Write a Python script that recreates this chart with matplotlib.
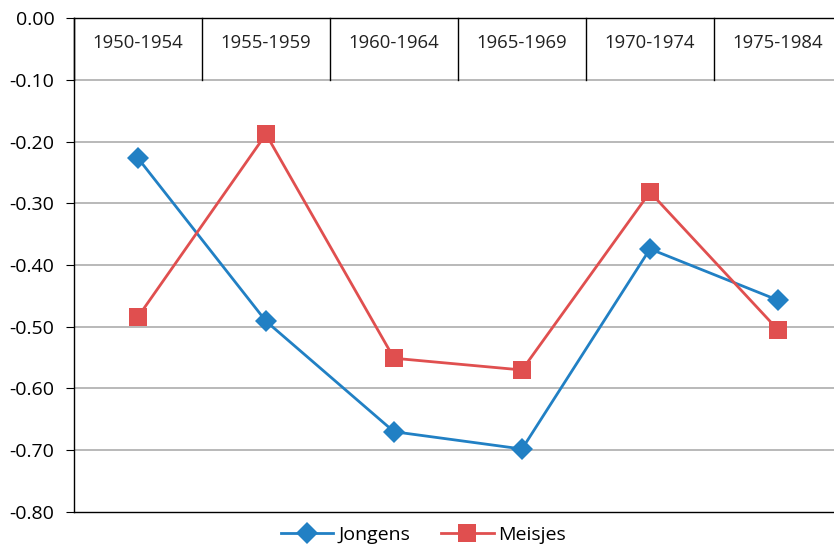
import matplotlib.pyplot as plt

periods = ["1950-1954", "1955-1959", "1960-1964", "1965-1969", "1970-1974", "1975-1984"]
jongens = [-0.227, -0.491, -0.670, -0.698, -0.374, -0.457]
meisjes = [-0.484, -0.188, -0.551, -0.570, -0.282, -0.505]

BLUE = "#2180C4"
RED = "#E04F4F"

plt.rcParams["font.family"] = ["Open Sans", "DejaVu Sans"]

fig = plt.figure(figsize=(8.34, 5.51), dpi=100)
ax = fig.add_axes([0.0887, 0.0708, 0.9209, 0.8965])

x = range(len(periods))
ax.plot(x, jongens, color=BLUE, lw=2.0, marker="D", markersize=11.5,
        markeredgewidth=0, label="Jongens", zorder=3)
ax.plot(x, meisjes, color=RED, lw=2.0, marker="s", markersize=13,
        markeredgewidth=0, label="Meisjes", zorder=3)

ax.set_xlim(-0.5, len(periods) - 0.5)
ax.set_ylim(-0.8, 0.0)
ax.set_yticks([-0.1 * i for i in range(9)])
ax.set_yticklabels([f"{-0.1 * i:.2f}" if i else "0.00" for i in range(9)])
ax.tick_params(axis="y", labelsize=14, length=6, color="black", pad=8)
ax.set_xticks([])

# horizontal gridlines
for i in range(1, 8):
    ax.axhline(-0.1 * i, color="#A6A6A6", lw=1.1, zorder=1)

# category band at the top, split by short dividers
for i in range(len(periods) + 1):
    ax.plot([i - 0.5, i - 0.5], [0.0, -0.1], color="black", lw=1.0,
            clip_on=False, zorder=2)
for i, p in enumerate(periods):
    ax.text(i, -0.04, p, ha="center", va="center", fontsize=13.3, color="#222222")

for side in ["left", "top", "bottom"]:
    ax.spines[side].set_color("black")
    ax.spines[side].set_linewidth(1.0)
ax.spines["right"].set_visible(False)

ax.legend(loc="upper center", bbox_to_anchor=(0.455, -0.005), ncol=2, frameon=False,
          fontsize=14, handlelength=2.7, columnspacing=1.6, handletextpad=0.25,
          borderaxespad=0.2)

fig.savefig("out.png", dpi=100)
